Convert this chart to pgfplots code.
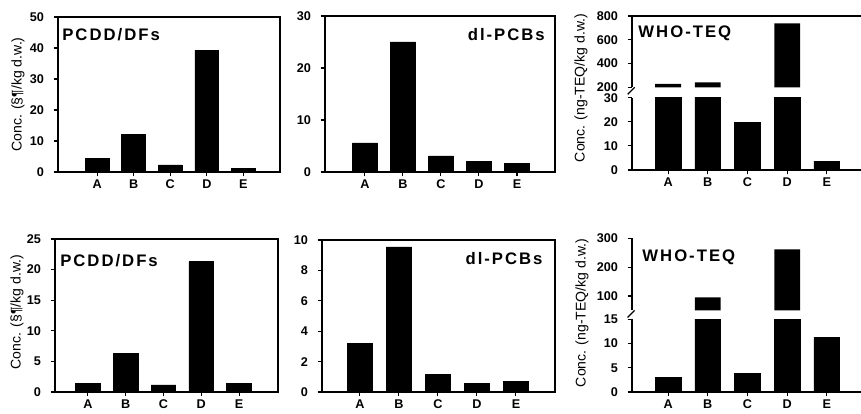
\documentclass[border=0pt]{standalone}
\usepackage{fontspec}
\setmainfont{Liberation Sans}
\newfontfamily\titlefont{Liberation Sans}[LetterSpace=12]
\usepackage{pgfplots}
\usepackage{pgfplotstable}
\pgfplotsset{compat=1.18}

% concentrations per site, A..E at x = 1..5
\pgfplotstableread{
x top1 top2 top3 bot1 bot2 bot3
1 4.5  5.6  228  1.45 3.17 2.93
2 12.1 25.0 242  6.35 9.54 95
3 2.3  3.1  19.6 1.15 1.14 3.75
4 39.2 2.05 738  21.3 0.59 262
5 1.2  1.7  3.7  1.45 0.70 11.25
}\data

\pgfplotsset{
  panel/.style={
    scale only axis,
    anchor=south west,
    ymin=0,
    xmax=6,
    xtick={1,2,3,4,5},
    xticklabels={A,B,C,D,E},
    tick pos=left,
    tick align=outside,
    major tick length=2.5pt,
    axis line style={line width=0.7pt},
    every tick/.style={black,line width=0.6pt},
    tick label style={font=\fontsize{7.2}{8}\selectfont\bfseries},
    yticklabel style={xshift=-2pt},
    xticklabel style={inner sep=1.5pt},
    /pgf/number format/assume math mode=true,
    bar width=0.65,
    ybar,
    clip=true,
  },
  bars/.style={fill=black,draw=black,line width=0.4pt},
  upbars/.style={fill=black,draw=none},
}
\tikzset{
  ttl/.style={font=\titlefont\fontsize{9.5}{10}\selectfont\bfseries,inner sep=0pt},
  brk/.style={line width=0.7pt},
}

\begin{document}
\begin{tikzpicture}
\path[use as bounding box] (0,0) rectangle (17.22,8.28);

% ---------------- top row ----------------
\begin{axis}[panel, at={(1.16cm,4.84cm)}, width=4.44cm, height=3.10cm,
  xmin=-0.07, ymax=50, ytick={0,10,20,30,40,50}]
\addplot[bars] table[x=x,y=top1] {\data};
\node[ttl,anchor=west] at (rel axis cs:0.018,0.884) {PCDD/DFs};
\end{axis}

\begin{axis}[panel, at={(6.50cm,4.84cm)}, width=4.60cm, height=3.12cm,
  xmin=-0.05, ymax=30, ytick={0,10,20,30}]
\addplot[bars] table[x=x,y=top2] {\data};
\node[ttl,anchor=east] at (rel axis cs:0.957,0.878) {dl-PCBs};
\end{axis}

\begin{axis}[panel, at={(12.64cm,4.88cm)}, width=4.69cm, height=1.446cm,
  xmin=0.09, ymax=30, ytick={0,10,20,30},
  axis x line*=bottom, axis y line*=left]
\addplot[bars] table[x=x,y=top3] {\data};
\draw[brk] ([xshift=-2.5pt,yshift=0pt]rel axis cs:0,1) -- ([xshift=1.5pt,yshift=4pt]rel axis cs:0,1);
\end{axis}

\begin{axis}[panel, at={(12.64cm,6.534cm)}, width=4.69cm, height=1.426cm,
  xmin=0.09, ymin=200, ymax=800, ytick={200,400,600,800},
  axis x line=none, axis y line*=left, xtick=\empty, clip=false]
\begin{scope}
\clip (rel axis cs:0,0) rectangle (rel axis cs:1,1);
\addplot[upbars, restrict y to domain=200:10000] table[x=x,y=top3] {\data};
\end{scope}
\draw[line width=0.7pt] (rel axis cs:0,1) -- (rel axis cs:1,1);
\node[ttl,anchor=west] at (rel axis cs:0.026,0.76) {WHO-TEQ};
\draw[brk] ([xshift=-2.5pt,yshift=-4pt]rel axis cs:0,0) -- ([xshift=1.5pt,yshift=0pt]rel axis cs:0,0);
\end{axis}

% ---------------- bottom row ----------------
\begin{axis}[panel, at={(1.10cm,0.44cm)}, width=4.46cm, height=3.06cm,
  xmin=0.13, xmax=6.03, ymax=25, ytick={0,5,10,15,20,25}]
\addplot[bars] table[x=x,y=bot1] {\data};
\node[ttl,anchor=west] at (rel axis cs:0.022,0.856) {PCDD/DFs};
\end{axis}

\begin{axis}[panel, at={(6.44cm,0.44cm)}, width=4.66cm, height=3.04cm,
  xmin=0.03, ymax=10, ytick={0,2,4,6,8,10}]
\addplot[bars] table[x=x,y=bot2] {\data};
\node[ttl,anchor=east] at (rel axis cs:0.948,0.88) {dl-PCBs};
\end{axis}

\begin{axis}[panel, at={(12.64cm,0.44cm)}, width=4.69cm, height=1.454cm,
  xmin=0.09, ymax=15, ytick={0,5,10,15},
  axis x line*=bottom, axis y line*=left]
\addplot[bars] table[x=x,y=bot3] {\data};
\draw[brk] ([xshift=-2.5pt,yshift=0pt]rel axis cs:0,1) -- ([xshift=1.5pt,yshift=4pt]rel axis cs:0,1);
\end{axis}

\begin{axis}[panel, at={(12.64cm,2.072cm)}, width=4.69cm, height=1.442cm,
  xmin=0.09, ymin=50, ymax=300, ytick={100,200,300},
  axis x line=none, axis y line*=left, xtick=\empty, clip=false]
\begin{scope}
\clip (rel axis cs:0,0) rectangle (rel axis cs:1,1);
\addplot[upbars, restrict y to domain=50:10000] table[x=x,y=bot3] {\data};
\end{scope}
\node[ttl,anchor=west] at (rel axis cs:0.043,0.74) {WHO-TEQ};
\draw[brk] ([xshift=-2.5pt,yshift=-4pt]rel axis cs:0,0) -- ([xshift=1.5pt,yshift=0pt]rel axis cs:0,0);
\end{axis}

% y axis labels
\node[rotate=90,font=\fontsize{8}{9}\selectfont] at (0.36,6.39) {Conc. (§¶/kg d.w.)};
\node[rotate=90,font=\fontsize{8}{9}\selectfont] at (0.34,2.04) {Conc. (§¶/kg d.w.)};
\node[rotate=90,font=\fontsize{8}{9}\selectfont] at (11.62,6.52) {Conc. (ng-TEQ/kg d.w.)};
\node[rotate=90,font=\fontsize{8}{9}\selectfont] at (11.64,2.02) {Conc. (ng-TEQ/kg d.w.)};
\end{tikzpicture}
\end{document}
